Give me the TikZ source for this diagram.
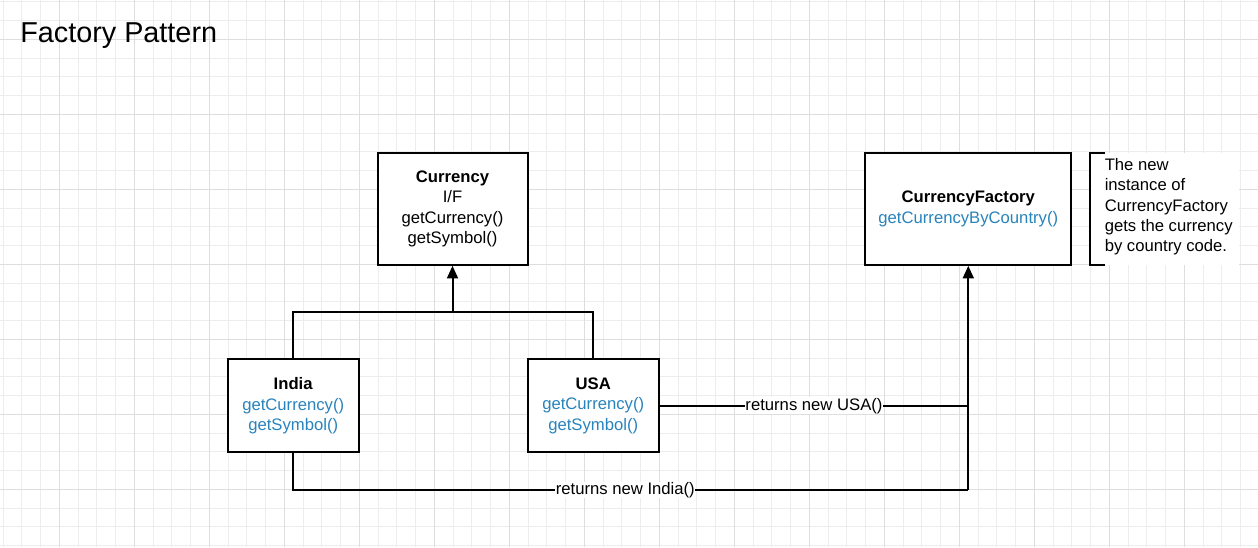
\documentclass[tikz,border=0pt]{standalone}
\usepackage{fontspec}
\setmainfont{Liberation Sans}
\usepackage{tikz}
\usetikzlibrary{arrows.meta}
\definecolor{methodblue}{RGB}{41,131,188}
\tikzset{
  classbox/.style = {draw = black, line width = 1.5pt, fill = white, align = center, inner sep = 0pt,
    font = \fontsize{12.5}{15.2}\selectfont},
  IfaceNode/.style = {classbox, minimum width = 112.5pt, minimum height = 84pt},
  ImplNode/.style = {classbox, minimum width = 98.25pt, minimum height = 69.75pt},
  FactoryNode/.style = {classbox, minimum width = 154.5pt, minimum height = 84pt},
  link/.style = {draw = black, line width = 1.5pt},
  retlabel/.style = {fill = white, inner sep = 0.5pt, font = \fontsize{12.5}{15.2}\selectfont},
  minorgrid/.style = {draw = black!7, line width = 0.6pt},
  majorgrid/.style = {draw = black!13, line width = 0.75pt}
}

\begin{document}
\begin{tikzpicture}[x=0.75pt, y=-0.75pt, >={Triangle[length=9.5pt, width=8.25pt]}]
  \useasboundingbox (0,0) rectangle (1258,547);
  \fill[white] (0,0) rectangle (1258,547);
  % grid paper
  \foreach \k in {0,...,66} {
    \pgfmathsetmacro{\gx}{3.05+18.75*\k}
    \draw[minorgrid] (\gx,0) -- (\gx,547);
  }
  \foreach \k in {0,...,29} {
    \pgfmathsetmacro{\gy}{1.8+18.75*\k}
    \draw[minorgrid] (0,\gy) -- (1258,\gy);
  }
  \foreach \k in {0,...,16} {
    \pgfmathsetmacro{\gx}{59.3+75*\k}
    \draw[majorgrid] (\gx,0) -- (\gx,547);
  }
  \foreach \k in {0,...,6} {
    \pgfmathsetmacro{\gy}{39.3+75*\k}
    \draw[majorgrid] (0,\gy) -- (1258,\gy);
  }

  \node [anchor = base west, inner sep = 0pt, font = \fontsize{21.6}{26}\selectfont] (title) at (20,42.3) {Factory Pattern};

  % classes
  \node [IfaceNode] (currency) at (452.5,208.8) {\textbf{Currency}\\I/F\\getCurrency()\\getSymbol()};
  \node [FactoryNode] (factory) at (968.3,208.8) {\textbf{CurrencyFactory}\\\textcolor{methodblue}{getCurrencyByCountry()}};
  \node [ImplNode] (india) at (293.2,405.7) {\textbf{India}\\\textcolor{methodblue}{getCurrency()}\\\textcolor{methodblue}{getSymbol()}};
  \node [ImplNode] (usa) at (593.2,405.7) {\textbf{USA}\\\textcolor{methodblue}{getCurrency()}\\\textcolor{methodblue}{getSymbol()}};

  % note
  \fill[white] (1090,152.7) rectangle (1239.3,265);
  \draw[link] (1105,152.7) -- (1090,152.7) -- (1090,265) -- (1105,265);
  \node [anchor = west, align = left, inner sep = 0pt, font = \fontsize{12.5}{15.2}\selectfont] (note) at (1104.5,206.8)
    {The new\\instance of\\CurrencyFactory\\gets the currency\\by country code.};

  % implements
  \coordinate (bar) at (452.5,312.3);
  \draw[link] (india.north) |- (bar) -| (usa.north);
  \draw[link,->] (bar) -- (currency.south);

  % returns
  \coordinate (corner) at (968.3,490);
  \draw[link] (usa.east) -- node [retlabel] {returns new USA()} (usa.east -| factory.south);
  \draw[link] (india.south) |- node [retlabel, pos = 0.746] {returns new India()} (corner);
  \draw[link,->] (corner) -- (factory.south);
\end{tikzpicture}
\end{document}
